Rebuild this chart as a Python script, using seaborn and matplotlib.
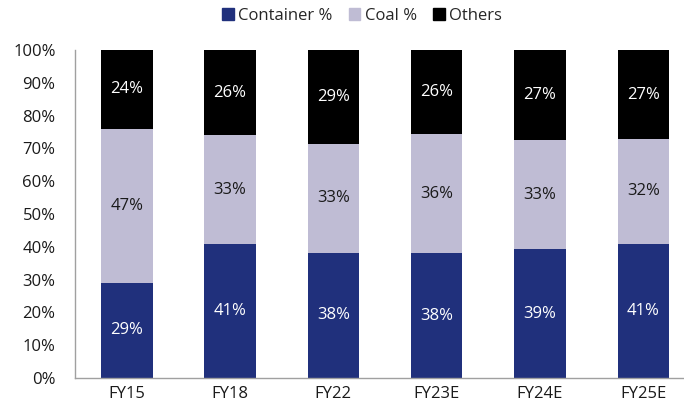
import numpy as np
import pandas as pd
import matplotlib
matplotlib.use("Agg")
import matplotlib.pyplot as plt
from matplotlib.patches import Patch
import seaborn as sns

categories = ["FY15", "FY18", "FY22", "FY23E", "FY24E", "FY25E"]
container = [29.0, 40.9, 38.2, 38.1, 39.2, 41.0]
coal = [47.0, 33.1, 33.2, 36.3, 33.4, 31.8]
others = [24.0, 26.0, 28.6, 25.6, 27.4, 27.2]
yticks = [0, 10, 20, 30, 40, 50, 60, 70, 80, 90, 100]

NAVY = "#20307C"
LAV = "#BFBCD4"
BLACK = "#000000"

sns.set_theme(style="white")
plt.rcParams["font.family"] = ["Open Sans", "DejaVu Sans"]
FS = 12

df = pd.DataFrame({"cat": categories, "container": container,
                   "coal": coal, "others": others})
df["c1"] = df["container"]
df["c2"] = df["container"] + df["coal"]
df["c3"] = df["c2"] + df["others"]

fig = plt.figure(figsize=(6.84, 4.04), dpi=100)
ax = fig.add_axes([75 / 684, 1 - 378 / 404, (695 - 75) / 684, (378 - 50) / 404])

for col, colr in [("c3", BLACK), ("c2", LAV), ("c1", NAVY)]:
    sns.barplot(data=df, x="cat", y=col, color=colr, width=0.5,
                saturation=1, ax=ax, linewidth=0, order=categories)

for i, row in df.iterrows():
    ax.text(i, row["container"] / 2, f"{row['container']:.0f}%", ha="center",
            va="center", color="white", fontsize=FS)
    ax.text(i, row["container"] + row["coal"] / 2, f"{row['coal']:.0f}%",
            ha="center", va="center", color="#1a1a1a", fontsize=FS)
    ax.text(i, row["c2"] + row["others"] / 2, f"{row['others']:.0f}%",
            ha="center", va="center", color="white", fontsize=FS)

ax.set_xlim(-0.5, 5.5)
ax.set_ylim(0, 100)
ax.set_yticks(yticks)
ax.set_yticklabels([f"{v}%" for v in yticks])
ax.set_xlabel("")
ax.set_ylabel("")
ax.tick_params(axis="y", length=0, pad=14, labelsize=FS, colors="#1a1a1a")
ax.tick_params(axis="x", length=0, pad=6, labelsize=FS, colors="#1a1a1a")
for s in ["top", "right"]:
    ax.spines[s].set_visible(False)
for s in ["left", "bottom"]:
    ax.spines[s].set_color("#A0A0A0")
    ax.spines[s].set_linewidth(1.0)

handles = [Patch(color=NAVY, label="Container %"),
           Patch(color=LAV, label="Coal %"),
           Patch(color=BLACK, label="Others")]
fig.legend(handles=handles, loc="center", bbox_to_anchor=(362 / 684, 1 - 16 / 404),
           ncol=3, frameon=False, fontsize=FS, handlelength=0.7, handleheight=0.7,
           handletextpad=0.25, columnspacing=1.0)

fig.savefig("out.png", dpi=100)
